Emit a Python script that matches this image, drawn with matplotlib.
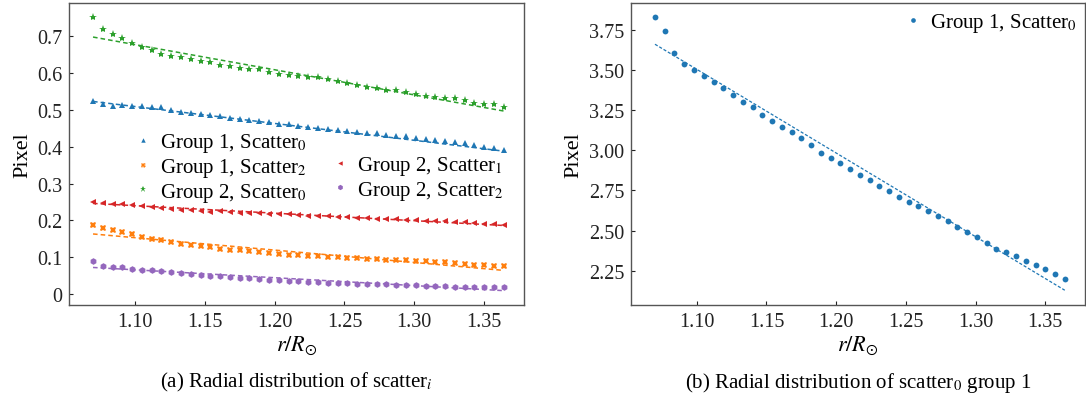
import matplotlib
import numpy as np

matplotlib.use("Agg", force=True)
import matplotlib.pyplot as plt
from matplotlib.lines import Line2D

plt.rcParams["font.family"] = ["Liberation Serif", "DejaVu Serif"]
plt.rcParams["mathtext.fontset"] = "stix"

# radius in solar radii (same grid for every series)
r = np.round(1.07 + 0.007 * np.arange(43), 3)

# panel (a): pixel values per group / scatter
g1_s0 = [0.524, 0.517, 0.511, 0.513, 0.512, 0.512, 0.508, 0.507, 0.500, 0.495, 0.493,
         0.490, 0.485, 0.484, 0.478, 0.474, 0.472, 0.469, 0.467, 0.463, 0.461, 0.457,
         0.454, 0.451, 0.448, 0.446, 0.443, 0.441, 0.438, 0.436, 0.433, 0.430, 0.428,
         0.425, 0.421, 0.419, 0.416, 0.412, 0.409, 0.405, 0.400, 0.396, 0.391]
g1_s2 = [0.188, 0.180, 0.174, 0.168, 0.162, 0.155, 0.149, 0.146, 0.140, 0.137, 0.134,
         0.130, 0.127, 0.123, 0.120, 0.119, 0.117, 0.114, 0.112, 0.109, 0.106, 0.105,
         0.104, 0.102, 0.101, 0.0996, 0.0987, 0.098, 0.096, 0.095, 0.093, 0.092, 0.0915,
         0.0905, 0.089, 0.088, 0.086, 0.084, 0.0815, 0.0797, 0.0788, 0.077, 0.075]
g2_s0 = [0.752, 0.720, 0.706, 0.696, 0.681, 0.671, 0.662, 0.653, 0.647, 0.644, 0.639,
         0.634, 0.630, 0.622, 0.619, 0.614, 0.611, 0.611, 0.603, 0.597, 0.596, 0.591,
         0.590, 0.590, 0.583, 0.578, 0.573, 0.568, 0.563, 0.559, 0.555, 0.553, 0.550,
         0.542, 0.539, 0.534, 0.533, 0.532, 0.526, 0.520, 0.516, 0.515, 0.508]
g2_s1 = [0.249, 0.247, 0.245, 0.245, 0.243, 0.240, 0.236, 0.233, 0.230, 0.228, 0.227,
         0.226, 0.224, 0.225, 0.223, 0.221, 0.220, 0.219, 0.217, 0.217, 0.216, 0.215,
         0.213, 0.212, 0.211, 0.210, 0.208, 0.207, 0.206, 0.205, 0.204, 0.203, 0.202,
         0.201, 0.199, 0.198, 0.197, 0.196, 0.195, 0.193, 0.191, 0.189, 0.188]
g2_s2 = [0.089, 0.077, 0.073, 0.0725, 0.069, 0.066, 0.064, 0.062, 0.059, 0.0565, 0.054,
         0.052, 0.050, 0.048, 0.045, 0.0435, 0.0425, 0.041, 0.039, 0.037, 0.036, 0.0345,
         0.033, 0.032, 0.031, 0.030, 0.029, 0.028, 0.027, 0.026, 0.026, 0.025, 0.024,
         0.023, 0.022, 0.022, 0.021, 0.020, 0.020, 0.019, 0.019, 0.018, 0.018]

# fitted line values at first and last radius
fit_g1_s0 = [0.523, 0.388]
fit_g1_s2 = [0.163, 0.064]
fit_g2_s0 = [0.698, 0.497]
fit_g2_s1 = [0.246, 0.186]
fit_g2_s2 = [0.072, 0.009]

# panel (b): group 1, scatter 0
b_g1_s0 = [3.833, 3.742, 3.605, 3.540, 3.503, 3.465, 3.426, 3.387, 3.345, 3.301, 3.268,
           3.222, 3.185, 3.146, 3.115, 3.077, 3.033, 2.983, 2.954, 2.920, 2.884, 2.846,
           2.813, 2.778, 2.745, 2.711, 2.680, 2.653, 2.622, 2.593, 2.560, 2.524, 2.489,
           2.460, 2.421, 2.385, 2.365, 2.343, 2.312, 2.284, 2.259, 2.231, 2.196]
fit_b = [3.661, 2.128]

x_ticks = [1.10, 1.15, 1.20, 1.25, 1.30, 1.35]
x_tick_labels = ["1.10", "1.15", "1.20", "1.25", "1.30", "1.35"]
a_y_ticks = [0, 0.1, 0.2, 0.3, 0.4, 0.5, 0.6, 0.7]
a_y_tick_labels = ["0", "0.1", "0.2", "0.3", "0.4", "0.5", "0.6", "0.7"]
b_y_ticks = [2.25, 2.50, 2.75, 3.00, 3.25, 3.50, 3.75]
b_y_tick_labels = ["2.25", "2.50", "2.75", "3.00", "3.25", "3.50", "3.75"]

series_a = [
    ("Group 1, Scatter$_0$", g1_s0, fit_g1_s0, "#1f77b4", "^", 4.0),
    ("Group 1, Scatter$_2$", g1_s2, fit_g1_s2, "#ff7f0e", "X", 4.5),
    ("Group 2, Scatter$_0$", g2_s0, fit_g2_s0, "#2ca02c", "*", 6.0),
    ("Group 2, Scatter$_1$", g2_s1, fit_g2_s1, "#d62728", "<", 4.0),
    ("Group 2, Scatter$_2$", g2_s2, fit_g2_s2, "#9467bd", "h", 4.8),
]

fig = plt.figure(figsize=(10.86, 4.02), dpi=100)
ax_a = fig.add_axes([69 / 1086, 1 - 306 / 402, 455 / 1086, 302 / 402])
ax_b = fig.add_axes([631 / 1086, 1 - 306 / 402, 454 / 1086, 302 / 402])

r_ends = [r[0], r[-1]]
handles = {}
for label, values, fit, color, marker, size in series_a:
    (h,) = ax_a.plot(r, values, linestyle="none", marker=marker, markersize=size,
                     color=color, markeredgewidth=0, label=label)
    ax_a.plot(r_ends, fit, linestyle=(0, (3, 2)), linewidth=1.1, color=color)
    handles[label] = h

# second legend column starts one row lower, so pad it with a blank entry
blank = Line2D([], [], linestyle="none", label=" ")
order = ["Group 1, Scatter$_0$", "Group 1, Scatter$_2$", "Group 2, Scatter$_0$"]
order2 = ["Group 2, Scatter$_1$", "Group 2, Scatter$_2$"]
leg_handles = [handles[k] for k in order] + [blank] + [handles[k] for k in order2]
leg_labels = order + [""] + order2
ax_a.legend(leg_handles, leg_labels, ncol=2, loc="center left",
            bbox_to_anchor=(0.12, 0.455), frameon=False, fontsize=15,
            handlelength=0.5, handletextpad=0.55, columnspacing=1.35,
            labelspacing=0.08, borderpad=0.2, markerscale=0.8)

ax_b.plot(r, b_g1_s0, linestyle="none", marker="o", markersize=4.2,
          color="#1f77b4", markeredgewidth=0, label="Group 1, Scatter$_0$")
ax_b.plot(r_ends, fit_b, linestyle=(0, (2.5, 1.5)), linewidth=0.9, color="#1f77b4")
ax_b.legend(loc="upper right", frameon=False, fontsize=15, handlelength=0.5,
            handletextpad=0.55, borderpad=0.2, borderaxespad=0.2, markerscale=0.8)

for ax in (ax_a, ax_b):
    ax.set_xlim(1.0528, 1.3785)
    ax.set_xticks(x_ticks)
    ax.set_xticklabels(x_tick_labels)
    ax.tick_params(direction="in", length=3, width=0.8, labelsize=14.5, colors="#222222",
                   pad=5)
    ax.set_xlabel(r"$r/R_{\odot}$", fontsize=16, labelpad=2)
    for spine in ax.spines.values():
        spine.set_color("#555555")
        spine.set_linewidth(1.0)

ax_a.set_ylabel("Pixel", fontsize=16, labelpad=3)
ax_b.set_ylabel("Pixel", fontsize=16, labelpad=4)

ax_a.set_ylim(-0.030, 0.7905)
ax_a.set_yticks(a_y_ticks)
ax_a.set_yticklabels(a_y_tick_labels)
ax_b.set_ylim(2.036, 3.918)
ax_b.set_yticks(b_y_ticks)
ax_b.set_yticklabels(b_y_tick_labels)

ax_a.text(0.5, -0.215, "(a) Radial distribution of scatter$_i$", transform=ax_a.transAxes,
          ha="center", va="top", fontsize=15)
ax_b.text(0.5, -0.215, "(b) Radial distribution of scatter$_0$ group 1",
          transform=ax_b.transAxes, ha="center", va="top", fontsize=15)

fig.savefig("out.png", dpi=100)
plt.close(fig)
